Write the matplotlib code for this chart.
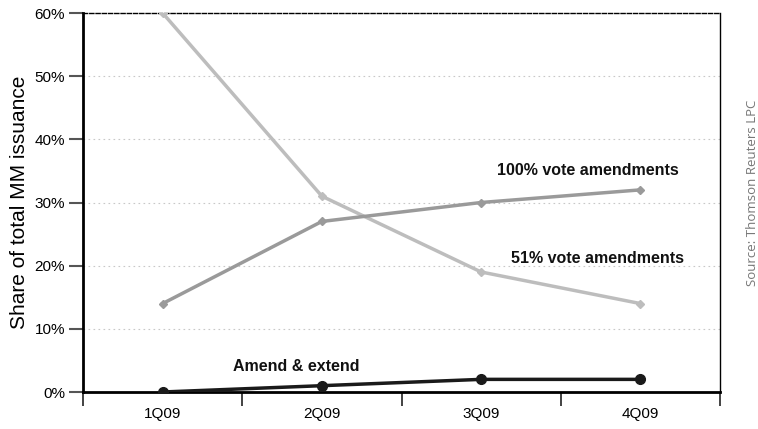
import matplotlib
matplotlib.use("Agg")
import matplotlib.pyplot as plt
from matplotlib.ticker import FixedLocator, FuncFormatter

quarters = ["1Q09", "2Q09", "3Q09", "4Q09"]
vote51 = [60, 31, 19, 14]
vote100 = [14, 27, 30, 32]
amend = [0, 1, 2, 2]
yticks = [0, 10, 20, 30, 40, 50, 60]

plt.rcParams['font.family'] = ['Liberation Sans', 'DejaVu Sans']

fig = plt.figure(figsize=(7.58, 4.29), dpi=100)
ax = fig.add_axes([83/758, 1-392/429, (720-83)/758, (392-13)/429])

x = list(range(len(quarters)))
ax.plot(x, vote51, color="#bdbdbd", lw=2.5, marker="D", ms=4, zorder=3)
ax.plot(x, vote100, color="#9a9a9a", lw=2.5, marker="D", ms=4, zorder=3)
ax.plot(x, amend, color="#1a1a1a", lw=2.5, marker="o", ms=7, zorder=4)

ax.set_xlim(-0.5, 3.5)
ax.set_ylim(0, 60)
ax.set_yticks(yticks)
ax.yaxis.set_major_formatter(FuncFormatter(lambda v, p: f"{int(v)}%"))
ax.tick_params(axis="y", direction="out", length=10, width=1.5, color="#555555",
               labelsize=11, pad=3)

ax.set_xticks(x)
ax.set_xticklabels(quarters, fontsize=11)
ax.tick_params(axis="x", which="major", length=0, pad=11)
ax.xaxis.set_minor_locator(FixedLocator([-0.5, 0.5, 1.5, 2.5, 3.5]))
ax.tick_params(axis="x", which="minor", direction="out", length=10, width=1.2, color="#222222")

for v in yticks[1:-1]:
    ax.axhline(v, color="#c8c8c8", lw=0.8, ls=(0, (1.5, 3)), zorder=1)

ax.spines["left"].set_linewidth(2)
ax.spines["bottom"].set_linewidth(2)
ax.spines["right"].set_linewidth(1)
ax.spines["top"].set_linewidth(1)
ax.spines["top"].set_linestyle((0, (3, 1.5)))

ax.set_ylabel("Share of total MM issuance", fontsize=15, labelpad=4)

ax.text(2.67, 33.9, "100% vote amendments", fontsize=11.5, fontweight="bold",
        ha="center", va="bottom", color="#111111")
ax.text(2.73, 20.0, "51% vote amendments", fontsize=11.5, fontweight="bold",
        ha="center", va="bottom", color="#111111")
ax.text(0.84, 2.9, "Amend & extend", fontsize=11.5, fontweight="bold",
        ha="center", va="bottom", color="#111111")

fig.text(752/758, 1-193/429, "Source: Thomson Reuters LPC", rotation=90,
         fontsize=9.5, color="#777777", ha="center", va="center",
         family=["Open Sans", "DejaVu Sans"])

fig.savefig("out.png", dpi=100)
